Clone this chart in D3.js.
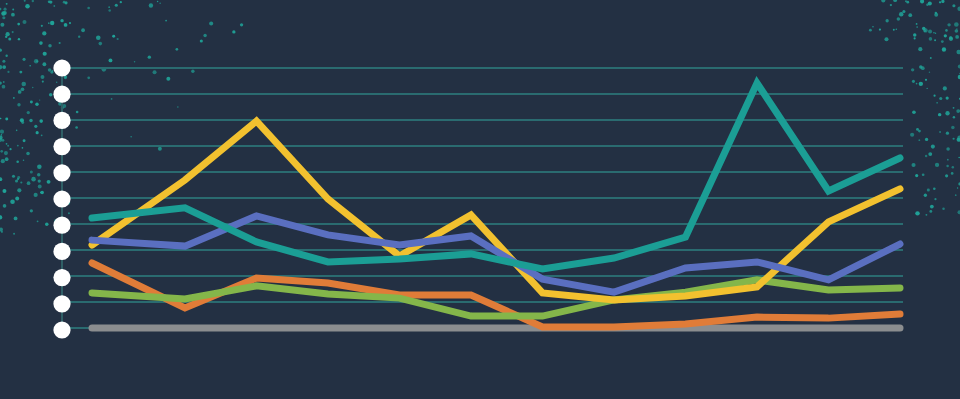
<!DOCTYPE html>
<html>
<head>
<meta charset="utf-8">
<script src="https://cdn.jsdelivr.net/npm/d3@7"></script>
<style>
  html, body { margin: 0; padding: 0; background: #233043; overflow: hidden; }
  svg { display: block; }
</style>
</head>
<body>
<div id="chart"></div>
<script>
const width = 960, height = 399;

// x position of each point, in step units (first gap is wider in the original)
var steps = [0, 1.3, 2.3, 3.3, 4.3, 5.3, 6.3, 7.3, 8.3, 9.3, 10.3, 11.3];
var ticks = [0, 1, 2, 3, 4, 5, 6, 7, 8, 9, 10];

var teal   = [4.23, 4.62, 3.31, 2.54, 2.65, 2.85, 2.27, 2.69, 3.5, 9.42, 5.27, 6.54];
var yellow = [3.19, 5.69, 7.96, 4.96, 2.77, 4.35, 1.35, 1.08, 1.23, 1.58, 4.08, 5.35];
var blue   = [3.38, 3.15, 4.31, 3.58, 3.19, 3.54, 1.88, 1.38, 2.31, 2.54, 1.85, 3.23];
var orange = [2.5, 0.77, 1.92, 1.73, 1.27, 1.27, 0.04, 0.04, 0.15, 0.42, 0.38, 0.54];
var green  = [1.35, 1.12, 1.62, 1.31, 1.15, 0.46, 0.46, 1.08, 1.38, 1.85, 1.46, 1.54];
var gray   = [0, 0, 0, 0, 0, 0, 0, 0, 0, 0, 0, 0];

var series = [
  {name: "gray", values: gray, color: "#8b8d8f"},
  {name: "orange", values: orange, color: "#e07c38"},
  {name: "green", values: green, color: "#84b64a"},
  {name: "yellow", values: yellow, color: "#f2c12f"},
  {name: "blue", values: blue, color: "#5a6fc0"},
  {name: "teal", values: teal, color: "#1b9e95"}
];

const svg = d3.select("#chart").append("svg")
    .attr("width", width)
    .attr("height", height);

svg.append("rect")
    .attr("width", width)
    .attr("height", height)
    .attr("fill", "#233043");

// speckles in the corners (seeded so it's always the same)
var rnd = d3.randomLcg(0.4217);
var speckles = svg.append("g").attr("fill", "#1fa398");
function speck(n, x0, x1, y0, y1, skew) {
  for (var i = 0; i < n; i++) {
    var u = Math.pow(rnd(), skew);
    var v = rnd();
    speckles.append("circle")
        .attr("cx", x0 + (x1 - x0) * u)
        .attr("cy", y0 + (y1 - y0) * Math.pow(v, 1.3))
        .attr("r", 0.7 + rnd() * 1.6)
        .attr("opacity", 0.6 + rnd() * 0.4);
  }
}
speck(140, 0, 70, 0, 235, 1.6);
speck(30, 60, 250, 0, 75, 1.2);
speck(10, 60, 180, 75, 150, 1.5);
speck(80, 960, 912, 30, 215, 1.4);
speck(35, 960, 870, 0, 40, 1.3);

const x = d3.scaleLinear()
    .domain([0, 11.3])
    .range([92, 900]);

const y = d3.scaleLinear()
    .domain([0, 10])
    .range([328, 68]);

// gridlines
svg.append("g")
  .selectAll("line")
  .data(ticks)
  .enter()
  .append("line")
    .attr("x1", 62)
    .attr("x2", 903)
    .attr("y1", function(d) { return y(d); })
    .attr("y2", function(d) { return y(d); })
    .attr("stroke", "#2a6b70")
    .attr("stroke-width", 2);

// axis spine + white dots
svg.append("line")
    .attr("x1", 62).attr("x2", 62)
    .attr("y1", y(10)).attr("y2", y(0) + 2)
    .attr("stroke", "#2f5f66")
    .attr("stroke-width", 2);

svg.append("g")
  .selectAll("circle")
  .data(ticks)
  .enter()
  .append("circle")
    .attr("cx", 62)
    .attr("cy", function(d) { return y(d) + d3.scaleLinear().domain([0, 10]).range([2, 0])(d); })
    .attr("r", 8.6)
    .attr("fill", "#ffffff");

var line = d3.line()
    .x(function(d, i) { return x(steps[i]); })
    .y(function(d) { return y(d); });

svg.append("g")
  .selectAll("path")
  .data(series)
  .enter()
  .append("path")
    .attr("d", function(d) { return line(d.values); })
    .attr("fill", "none")
    .attr("stroke", function(d) { return d.color; })
    .attr("stroke-width", 7)
    .attr("stroke-linecap", "round")
    .attr("stroke-linejoin", "miter");
</script>
</body>
</html>
